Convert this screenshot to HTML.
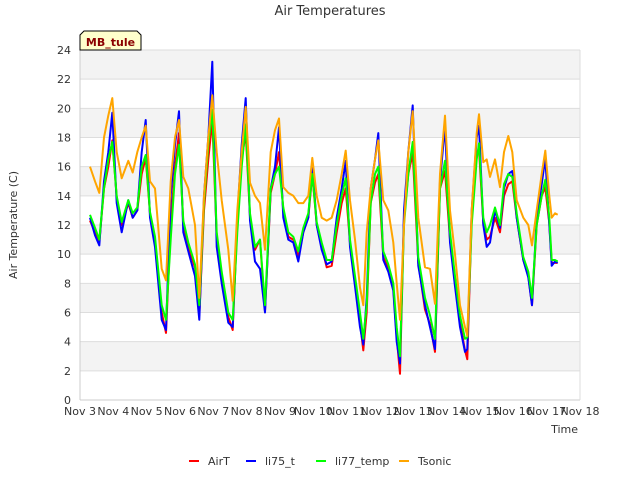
<!DOCTYPE html>
<html><head><meta charset="utf-8"><style>
body{margin:0;background:#fff;}
svg text{font-family:"DejaVu Sans","Liberation Sans",sans-serif;}
</style></head><body>
<svg id="chart" width="640" height="480" viewBox="0 0 640 480" xmlns="http://www.w3.org/2000/svg">
<rect x="0" y="0" width="640" height="480" fill="#fff"/>
<g id="bands"></g><g id="grid"></g>
<line x1="80" y1="50" x2="80" y2="400" stroke="#ccc"/>
<line x1="80" y1="400" x2="580" y2="400" stroke="#ccc"/>
<line x1="580" y1="50" x2="580" y2="400" stroke="#ddd"/>
<g id="series"></g><g id="yticks"></g><g id="xticks"></g>
<text x="330" y="15" text-anchor="middle" font-size="13" fill="#333">Air Temperatures</text>
<text transform="translate(17,225) rotate(-90)" text-anchor="middle" font-size="11" fill="#333">Air Temperature (C)</text>
<text x="578" y="433" text-anchor="end" font-size="11" fill="#333">Time</text>
<g>
<path d="M80,50 L80,35 L84,31 L137,31 L141,35 L141,50 Z" fill="#ffffcc" stroke="#000" stroke-width="1"/>
<text x="110.5" y="46" text-anchor="middle" font-size="11" font-weight="bold" fill="#8b0000">MB_tule</text>
</g>
<g id="legend"></g>
</svg>
<script>
const times=[3.3,3.45,3.58,3.72,3.85,3.97,
4.1,4.25,4.45,4.58,4.72,4.85,4.97,
5.1,5.25,5.45,5.58,5.72,5.85,5.97,
6.1,6.25,6.45,6.58,6.72,6.85,6.97,
7.1,7.25,7.45,7.58,7.72,7.85,7.97,
8.1,8.25,8.4,8.55,8.72,8.85,8.97,
9.1,9.25,9.4,9.55,9.7,9.85,9.97,
10.1,10.25,10.4,10.55,10.7,10.85,10.97,
11.1,11.25,11.4,11.5,11.6,11.72,11.85,11.95,
12.1,12.25,12.4,12.5,12.6,12.72,12.85,12.98,
13.15,13.35,13.5,13.65,13.8,13.95,
14.1,14.25,14.4,14.55,14.62,14.75,14.9,14.97,
15.1,15.2,15.3,15.45,15.6,15.72,15.85,15.97,
16.1,16.3,16.45,16.56,16.7,16.85,16.96,
17.08,17.15,17.25,17.33];
const airT=[12.3,11.5,10.8,14.5,16,17.8,
13.9,12,13.5,12.5,13,15.5,16.6,
12.8,11,6,4.6,12,16,18.3,
12.1,10.5,9.1,5.8,13,16.5,19.2,
11.2,8.4,5.7,4.8,12.1,16.5,18.3,
12.6,10.3,11,6.1,14.2,15.5,17,
13,11.2,11,9.8,11.5,12.5,15.5,
12,10.5,9.1,9.2,11.5,13.5,14.5,
10.8,8,5.3,3.4,6,13.5,14.9,15.5,
9.8,9,7.7,4.3,1.8,12.5,15.5,16.9,
9.4,6.2,5.2,3.3,14.5,15.7,
11,8,5.3,3.4,2.8,12.5,17,17.2,
12.1,11,11.2,12.5,11.5,14,14.8,15,
12.5,9.6,8.5,6.5,12,14,14.6,
12.1,9.4,9.4,9.4];
const li75=[12.5,11.3,10.6,15,17,19.7,
13.5,11.5,13.7,12.5,13,17,19.2,
12.5,10.5,5.5,4.8,14,17.5,19.8,
11.5,10.2,8.5,5.5,14,18,23.2,
10.5,8,5.3,5,12.5,17.5,20.7,
12.3,9.5,9,6,14.5,16,18.7,
12.5,11,10.8,9.5,11.5,12.5,16.3,
12,10.3,9.3,9.5,12.5,14.5,16.4,
10.5,7.8,5,3.8,7,14.5,16.5,18.3,
9.6,8.8,7.5,4,2.5,13,17,20.2,
9.2,6.5,5,3.5,15,18.8,
10.8,7.8,5,3.3,3.5,13,18,18.8,
12,10.5,10.8,13,11.8,14.5,15.5,15.7,
12.5,9.6,8.4,6.5,12.5,14.8,16.6,
12,9.2,9.5,9.4];
const li77=[12.7,11.8,11,14.5,16.5,17.7,
14,12.2,13.7,12.8,13.2,16,16.8,
12.9,11.2,6.5,5.5,11,15.5,17.5,
12.3,10.8,9.3,6.5,13.5,17.5,19.9,
11.5,8.8,6,5.5,11.5,16,18.9,
12.8,10.5,11,6.5,14.5,15.5,16,
13.2,11.5,11.2,10.2,11.8,12.8,15.5,
12.2,10.8,9.6,9.6,12,14,15.2,
11,8.5,6,4.2,6.5,13.5,15.5,16,
10.2,9.3,8,5,3,12,15.5,17.7,
9.8,7,5.8,4.2,14.5,16.4,
11.5,8.5,5.8,4.2,4.3,12,16.5,17.6,
12.5,11.5,12,13.2,12,14.8,15.5,15.3,
12.8,9.8,8.8,7,12,14,15.1,
12.5,9.6,9.6,9.5];
const tsonic=[16,15,14.2,18,19.5,20.7,
17,15.2,16.4,15.6,17,18,18.8,
15,14.5,9,8.2,15,18,19.2,
15.3,14.5,12,7,14,18,20.9,
17,13.7,10.3,6.8,13,17,20.1,
14.9,14,13.5,10.3,17,18.5,19.3,
14.6,14.2,14,13.5,13.5,14,16.6,
14,12.5,12.3,12.5,13.7,15.5,17.1,
13.7,11,7.7,6.5,11.5,14.5,16.5,17.8,
13.7,13,10.8,8,5.5,12,17,19.8,
12.5,9.1,9,6.6,15.5,19.5,
13,10,6.5,5,4.4,13,18.3,19.6,
16.3,16.5,15.3,16.5,14.6,17,18.1,17,
13.7,12.5,12,10.6,13,15.5,17.1,
14,12.5,12.8,12.7];
const yTicks=[0,2,4,6,8,10,12,14,16,18,20,22,24];
const xTickDays=[3,4,5,6,7,8,9,10,11,12,13,14,15,16,17,18];
const xTickLabels=["Nov 3","Nov 4","Nov 5","Nov 6","Nov 7","Nov 8","Nov 9","Nov 10","Nov 11","Nov 12","Nov 13","Nov 14","Nov 15","Nov 16","Nov 17","Nov 18"];
const seriesNames=["AirT","li75_t","li77_temp","Tsonic"];

const NS="http://www.w3.org/2000/svg";
const X0=80,X1=580,Y0=400,Y1=50;
function xs(d){return X0+(d-3)/(18-3)*(X1-X0);}
function ys(v){return Y0-v/24*(Y0-Y1);}
function mk(tag,attrs,parent){const e=document.createElementNS(NS,tag);for(const k in attrs)e.setAttribute(k,attrs[k]);parent.appendChild(e);return e;}
const bands=document.getElementById('bands'),grid=document.getElementById('grid');
for(let v=2;v<24;v+=4){
  const r=mk('rect',{x:X0,y:ys(v+2),width:X1-X0,height:ys(v)-ys(v+2),fill:'#f3f3f3'},bands);
  
  
}
const yt=document.getElementById('yticks');
yTicks.forEach(v=>{
  const l=mk('line',{x1:X0,x2:X1,y1:ys(v),y2:ys(v),stroke:'#ddd','stroke-width':1},grid);
  
  
  const t=mk('text',{x:X0-9,y:ys(v)+4,'text-anchor':'end','font-size':11,fill:'#333'},yt);
  t.textContent=v;
  
  
});
const xt=document.getElementById('xticks');
xTickDays.forEach((d,i)=>{
  const t=mk('text',{x:xs(d),y:Y0+15,'text-anchor':'middle','font-size':11,fill:'#333'},xt);
  t.textContent=xTickLabels[i];
  
  
});
const sg=document.getElementById('series');
const allSeries=[airT,li75,li77,tsonic];
const colors=['#ff0000','#0000ff','#00ff00','#ffa500'];
allSeries.forEach((vals,si)=>{
  const pts=times.map((t,i)=>xs(t).toFixed(1)+','+ys(vals[i]).toFixed(1)).join(' ');
  const p=mk('polyline',{points:pts,fill:'none',stroke:colors[si],'stroke-width':2,'stroke-linejoin':'round'},sg);
  
  
});
const lg=document.getElementById('legend');
const lx=[189,246,316,399];
seriesNames.forEach((n,i)=>{
  const g=mk('g',{},lg);
  
  
  mk('line',{x1:lx[i],x2:lx[i]+10,y1:461,y2:461,stroke:colors[i],'stroke-width':2},g);
  const t=mk('text',{x:lx[i]+19,y:465,'font-size':11,fill:'#333'},g);
  t.textContent=n;
});
</script>
</body></html>
